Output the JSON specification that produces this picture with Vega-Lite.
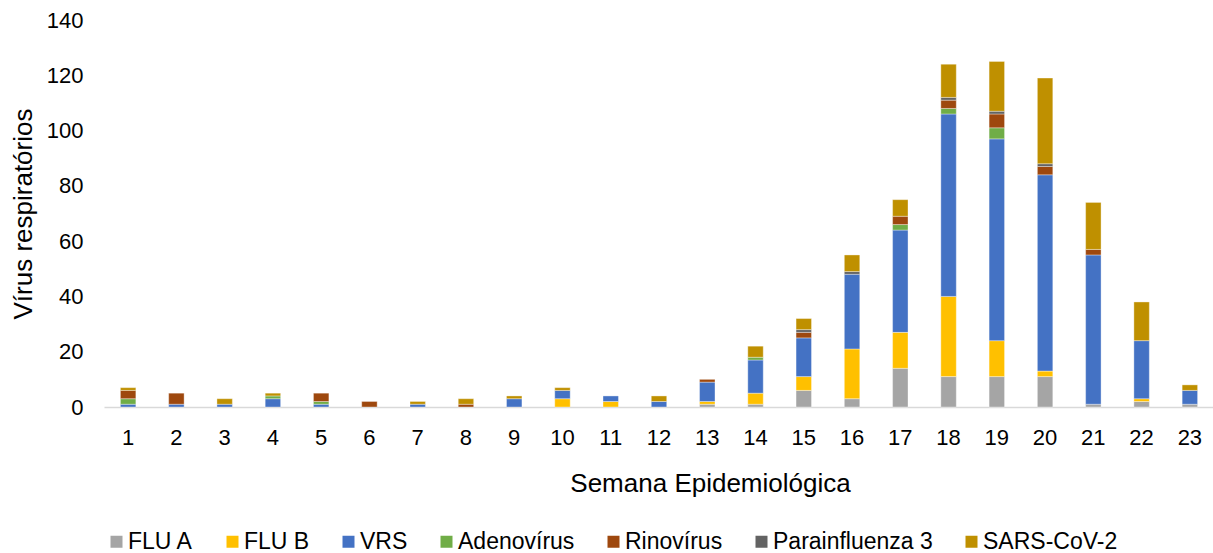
{
  "$schema": "https://vega.github.io/schema/vega-lite/v6.json",
  "width": 1110,
  "height": 387,
  "autosize": "none",
  "padding": {"left": 104, "top": 20, "right": 0, "bottom": 146},
  "background": "white",
  "config": {"font": "Liberation Sans", "view": {"stroke": null}},
  "data": {"values": [
    {"semana": 1, "virus": "VRS", "n": 1}, {"semana": 1, "virus": "Adenovírus", "n": 2}, {"semana": 1, "virus": "Rinovírus", "n": 3}, {"semana": 1, "virus": "SARS-CoV-2", "n": 1},
    {"semana": 2, "virus": "VRS", "n": 1}, {"semana": 2, "virus": "Rinovírus", "n": 4},
    {"semana": 3, "virus": "VRS", "n": 1}, {"semana": 3, "virus": "SARS-CoV-2", "n": 2},
    {"semana": 4, "virus": "VRS", "n": 3}, {"semana": 4, "virus": "Adenovírus", "n": 1}, {"semana": 4, "virus": "SARS-CoV-2", "n": 1},
    {"semana": 5, "virus": "VRS", "n": 1}, {"semana": 5, "virus": "Adenovírus", "n": 1}, {"semana": 5, "virus": "Rinovírus", "n": 3},
    {"semana": 6, "virus": "Rinovírus", "n": 2},
    {"semana": 7, "virus": "VRS", "n": 1}, {"semana": 7, "virus": "SARS-CoV-2", "n": 1},
    {"semana": 8, "virus": "Rinovírus", "n": 1}, {"semana": 8, "virus": "SARS-CoV-2", "n": 2},
    {"semana": 9, "virus": "VRS", "n": 3}, {"semana": 9, "virus": "SARS-CoV-2", "n": 1},
    {"semana": 10, "virus": "FLU B", "n": 3}, {"semana": 10, "virus": "VRS", "n": 3}, {"semana": 10, "virus": "SARS-CoV-2", "n": 1},
    {"semana": 11, "virus": "FLU B", "n": 2}, {"semana": 11, "virus": "VRS", "n": 2},
    {"semana": 12, "virus": "VRS", "n": 2}, {"semana": 12, "virus": "SARS-CoV-2", "n": 2},
    {"semana": 13, "virus": "FLU A", "n": 1}, {"semana": 13, "virus": "FLU B", "n": 1}, {"semana": 13, "virus": "VRS", "n": 7}, {"semana": 13, "virus": "Rinovírus", "n": 1},
    {"semana": 14, "virus": "FLU A", "n": 1}, {"semana": 14, "virus": "FLU B", "n": 4}, {"semana": 14, "virus": "VRS", "n": 12}, {"semana": 14, "virus": "Adenovírus", "n": 1}, {"semana": 14, "virus": "SARS-CoV-2", "n": 4},
    {"semana": 15, "virus": "FLU A", "n": 6}, {"semana": 15, "virus": "FLU B", "n": 5}, {"semana": 15, "virus": "VRS", "n": 14}, {"semana": 15, "virus": "Rinovírus", "n": 2}, {"semana": 15, "virus": "Parainfluenza 3", "n": 1}, {"semana": 15, "virus": "SARS-CoV-2", "n": 4},
    {"semana": 16, "virus": "FLU A", "n": 3}, {"semana": 16, "virus": "FLU B", "n": 18}, {"semana": 16, "virus": "VRS", "n": 27}, {"semana": 16, "virus": "Parainfluenza 3", "n": 1}, {"semana": 16, "virus": "SARS-CoV-2", "n": 6},
    {"semana": 17, "virus": "FLU A", "n": 14}, {"semana": 17, "virus": "FLU B", "n": 13}, {"semana": 17, "virus": "VRS", "n": 37}, {"semana": 17, "virus": "Adenovírus", "n": 2}, {"semana": 17, "virus": "Rinovírus", "n": 3}, {"semana": 17, "virus": "SARS-CoV-2", "n": 6},
    {"semana": 18, "virus": "FLU A", "n": 11}, {"semana": 18, "virus": "FLU B", "n": 29}, {"semana": 18, "virus": "VRS", "n": 66}, {"semana": 18, "virus": "Adenovírus", "n": 2}, {"semana": 18, "virus": "Rinovírus", "n": 3}, {"semana": 18, "virus": "Parainfluenza 3", "n": 1}, {"semana": 18, "virus": "SARS-CoV-2", "n": 12},
    {"semana": 19, "virus": "FLU A", "n": 11}, {"semana": 19, "virus": "FLU B", "n": 13}, {"semana": 19, "virus": "VRS", "n": 73}, {"semana": 19, "virus": "Adenovírus", "n": 4}, {"semana": 19, "virus": "Rinovírus", "n": 5}, {"semana": 19, "virus": "Parainfluenza 3", "n": 1}, {"semana": 19, "virus": "SARS-CoV-2", "n": 18},
    {"semana": 20, "virus": "FLU A", "n": 11}, {"semana": 20, "virus": "FLU B", "n": 2}, {"semana": 20, "virus": "VRS", "n": 71}, {"semana": 20, "virus": "Rinovírus", "n": 3}, {"semana": 20, "virus": "Parainfluenza 3", "n": 1}, {"semana": 20, "virus": "SARS-CoV-2", "n": 31},
    {"semana": 21, "virus": "FLU A", "n": 1}, {"semana": 21, "virus": "VRS", "n": 54}, {"semana": 21, "virus": "Rinovírus", "n": 2}, {"semana": 21, "virus": "SARS-CoV-2", "n": 17},
    {"semana": 22, "virus": "FLU A", "n": 2}, {"semana": 22, "virus": "FLU B", "n": 1}, {"semana": 22, "virus": "VRS", "n": 21}, {"semana": 22, "virus": "SARS-CoV-2", "n": 14},
    {"semana": 23, "virus": "FLU A", "n": 1}, {"semana": 23, "virus": "VRS", "n": 5}, {"semana": 23, "virus": "SARS-CoV-2", "n": 2}
  ]},
  "transform": [
    {"calculate": "indexof(['FLU A', 'FLU B', 'VRS', 'Adenovírus', 'Rinovírus', 'Parainfluenza 3', 'SARS-CoV-2'], datum.virus)", "as": "ordem"}
  ],
  "mark": {"type": "bar", "stroke": "#FFFFFF", "strokeWidth": 0.6, "strokeOpacity": 0.6},
  "encoding": {
    "x": {
      "field": "semana", "type": "ordinal",
      "scale": {"paddingInner": 0.68, "paddingOuter": 0.34},
      "axis": {
        "title": "Semana Epidemiológica", "labelAngle": 0, "ticks": false,
        "domainColor": "#D9D9D9", "domainWidth": 1.5,
        "labelFontSize": 22, "labelColor": "#000000", "labelPadding": 20,
        "titleFontSize": 26, "titleFontWeight": "normal", "titleColor": "#000000", "titlePadding": 22,
        "titleX": 606
      }
    },
    "y": {
      "field": "n", "type": "quantitative",
      "scale": {"domain": [0, 140], "nice": false},
      "axis": {
        "title": "Vírus respiratórios", "values": [0, 20, 40, 60, 80, 100, 120, 140],
        "grid": false, "domain": false, "ticks": false,
        "labelFontSize": 22, "labelColor": "#000000", "labelPadding": 21,
        "titleFontSize": 26, "titleFontWeight": "normal", "titleColor": "#000000", "titlePadding": 10
      }
    },
    "order": {"field": "ordem", "type": "quantitative", "sort": "ascending"},
    "color": {
      "field": "virus", "type": "nominal",
      "sort": ["FLU A", "FLU B", "VRS", "Adenovírus", "Rinovírus", "Parainfluenza 3", "SARS-CoV-2"],
      "scale": {
        "domain": ["FLU A", "FLU B", "VRS", "Adenovírus", "Rinovírus", "Parainfluenza 3", "SARS-CoV-2"],
        "range": ["#A5A5A5", "#FFC000", "#4472C4", "#70AD47", "#9E480E", "#636363", "#BF9000"]
      },
      "legend": {
        "title": null, "orient": "none", "legendX": 1, "legendY": 510,
        "direction": "horizontal", "columns": 7, "columnPadding": 27,
        "symbolType": "square", "symbolSize": 144, "symbolStrokeWidth": 0,
        "labelFontSize": 23, "labelColor": "#000000", "labelOffset": 0
      }
    }
  }
}
